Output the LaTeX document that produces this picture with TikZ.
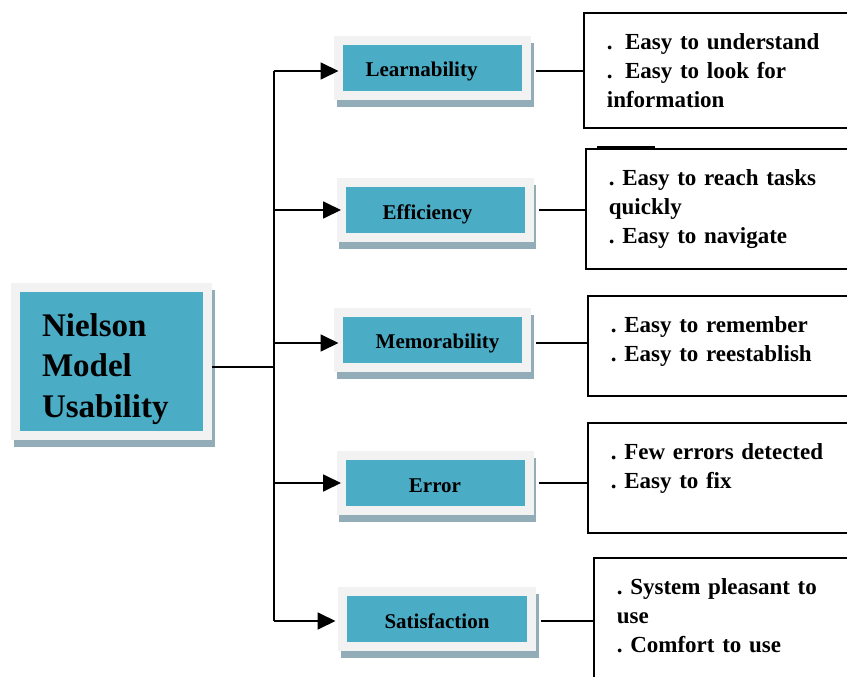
\documentclass[tikz,border=0pt]{standalone}
\usepackage{fontspec}
\setmainfont{Liberation Serif}
\usetikzlibrary{arrows.meta}
\definecolor{teal1}{HTML}{4BACC6}
\definecolor{frame1}{HTML}{F2F2F2}
\definecolor{shad1}{HTML}{93ADB8}
\begin{document}
\frenchspacing
\begin{tikzpicture}[x=1pt,y=-1pt,
  tealbox/.style={rectangle, fill=teal1, draw=frame1, line width=9pt, inner sep=0pt,
     preaction={draw=shad1, fill=shad1, line width=9pt, transform canvas={xshift=2.5pt,yshift=-7pt}}},
  midbox/.style={tealbox, minimum width=188pt, minimum height=55pt,
     font=\fontsize{21}{25}\selectfont\bfseries, text height=18pt, text depth=0pt},
  infobox/.style={rectangle, draw=black, line width=1.8pt, anchor=north west,
     inner xsep=23pt, inner ysep=0pt, text width=300pt, align=left, text height=37pt,
     font=\fontsize{23}{29}\selectfont\bfseries\frenchspacing},
  link/.style={draw=black, line width=1.8pt},
  arr/.style={link, -{Triangle[length=18pt,width=17pt]}}
]
\useasboundingbox (0,0) rectangle (847,677);
\clip (0,0) rectangle (847,677);

% main box
\node[tealbox, minimum width=192pt, minimum height=148pt, text width=139pt,
      inner xsep=26.5pt, inner ysep=0pt, align=left, text height=30pt, text depth=81pt,
      font=\fontsize{33}{40.5}\selectfont\bfseries] (M) at (111.5,361.5)
      {Nielson\\Model\\Usability};

% middle boxes
\node[midbox] (L)  at (432.5,68)  {\hspace*{-22pt}Learnability};
\node[midbox] (E)  at (435,210)   {\hspace*{-15pt}Efficiency};
\node[midbox] (Me) at (432.5,339.5) {Memorability\hspace*{-10pt}};
\node[midbox] (Er) at (435,483)   {Error};
\node[midbox, minimum width=189pt] (S) at (437,619) {Satisfaction};

% right boxes
\node[infobox, text depth=78pt]  (R1) at (583,12)
  {.\hspace{12.5pt}Easy to understand\\.\hspace{12.5pt}Easy to look for\\information};
\node[infobox, text depth=83pt]  (R2) at (585,148)
  {. Easy to reach tasks\\quickly\\. Easy to navigate};
\node[infobox, text depth=63pt]  (R3) at (587,295)
  {. Easy to remember\\. Easy to reestablish};
\node[infobox, text depth=73pt]  (R4) at (587,422)
  {. Few errors detected\\. Easy to fix};
\node[infobox, text depth=103pt] (R5) at (593,557)
  {. System pleasant to\\use\\. Comfort to use};

% trunk
\coordinate (t1) at (274,71);
\coordinate (t2) at (274,210);
\coordinate (t3) at (274,343);
\coordinate (t4) at (274,483);
\coordinate (t5) at (274,621);
\coordinate (j)  at (274,367);

\draw[link] (t1) -- (t5);
\draw[link] (M.east |- j) -- (j);

\draw[arr, shorten >=-4.5pt] (t1) -- (t1 -| L.west);
\draw[arr, shorten >=-4.5pt] (t2) -- (t2 -| E.west);
\draw[arr, shorten >=-4.5pt] (t3) -- (t3 -| Me.west);
\draw[arr, shorten >=-4.5pt] (t4) -- (t4 -| Er.west);
\draw[arr, shorten >=2.5pt]  (t5) -- (t5 -| S.west);

\draw[link, shorten <=5pt] (t1 -| L.east)  -- (t1 -| R1.west);
\draw[link, shorten <=5pt] (t2 -| E.east)  -- (t2 -| R2.west);
\draw[link, shorten <=5pt] (t3 -| Me.east) -- (t3 -| R3.west);
\draw[link, shorten <=5pt] (t4 -| Er.east) -- (t4 -| R4.west);
\draw[link, shorten <=5pt] (t5 -| S.east)  -- (t5 -| R5.west);

% small mark on top of second info box
\draw[line width=3pt] ([shift={(12pt,1pt)}]R2.north west) -- ([shift={(70pt,1pt)}]R2.north west);
\end{tikzpicture}
\end{document}
